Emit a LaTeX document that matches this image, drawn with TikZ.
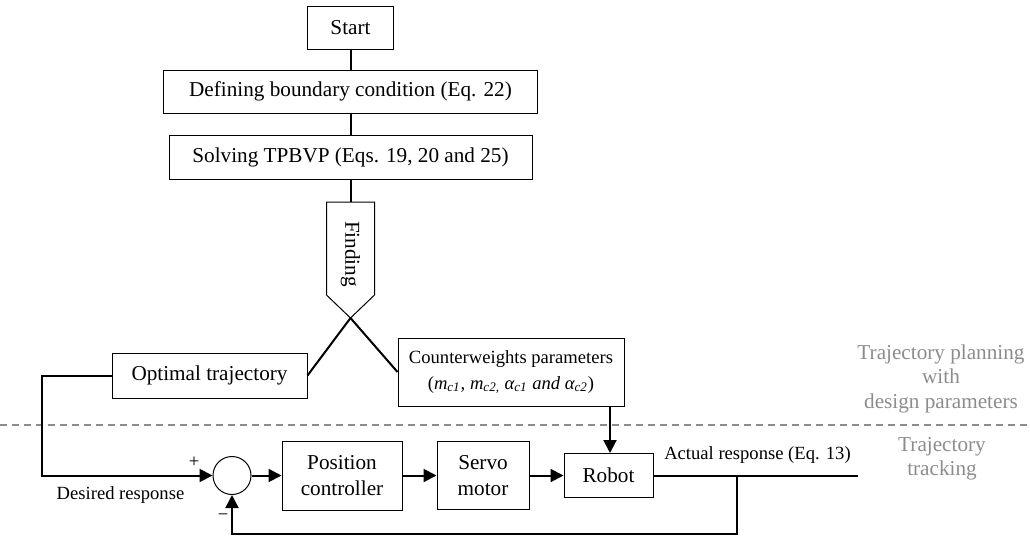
\documentclass[tikz,border=0pt]{standalone}
\usepackage{fontspec}
\setmainfont{Liberation Serif}
\usetikzlibrary{arrows.meta}

\begin{document}
\begin{tikzpicture}[x=0.5pt, y=-0.5pt, font=\fontsize{10.6}{13}\selectfont,
    blk/.style={draw, line width=0.5pt, inner sep=0pt, align=center},
    wire/.style={line width=1pt},
    sig/.style={line width=1pt, -{Triangle[length=6.5pt, width=6.5pt]}},
    lbl/.style={font=\fontsize{9.3}{13}\selectfont},
    side/.style={text=black!45, align=center, font=\fontsize{10.6}{12.25}\selectfont}]

    \useasboundingbox (0,0) rectangle (1030,537);

    % planning part
    \node[blk, minimum width=43pt, minimum height=21.5pt] (start) at (350.5,27.5) {Start};
    \node[blk, minimum width=187pt, minimum height=21.5pt] (bound) at (350.5,91.5) {Defining boundary condition (Eq. 22)};
    \node[blk, minimum width=181.5pt, minimum height=22pt] (solve) at (350.5,157) {Solving TPBVP (Eqs. 19, 20 and 25)};
    \draw[wire] (start) -- (bound);
    \draw[wire] (bound) -- (solve);

    % finding arrow shape
    \draw[line width=0.5pt] (326.5,202) -- (374.5,202) -- (374.5,295) -- (350.5,318) -- (326.5,295) -- cycle;
    \coordinate (findtop) at (350.5,202);
    \coordinate (tip) at (350.5,318);
    \node[rotate=-90] (find) at (350.5,254) {Finding};
    \draw[wire] (solve.south) -- (findtop);

    % results of the planning
    \node[blk, minimum width=97.5pt, minimum height=22.5pt] (opt) at (209.5,375.5) {Optimal trajectory};
    \node[blk, lbl, minimum width=113pt, minimum height=34pt] (cw) at (511,372)
        {Counterweights parameters\\(\textit{m\textsubscript{c1}, m\textsubscript{c2,} α\textsubscript{c1} and α\textsubscript{c2}})};
    \draw[wire] (tip) -- (opt.east);
    \draw[wire] (tip) -- (cw.west);

    % divider
    \draw[black!45, line width=0.65pt, dash pattern=on 3.5pt off 2.5pt] (0,425) -- (1030,425);
    \node[side] (plan) at (941,378.5) {Trajectory planning\\with\\design parameters};
    \node[side] (track) at (942,459) {Trajectory\\tracking};

    % tracking loop
    \node[circle, draw, line width=0.5pt, minimum size=19pt, inner sep=0pt] (sum) at (232,475.5) {};
    \node[blk, minimum width=60pt, minimum height=34.5pt] (pos) at (342,476) {Position\\controller};
    \node[blk, minimum width=46pt, minimum height=34pt] (servo) at (483,475.5) {Servo\\motor};
    \node[blk, minimum width=44.5pt, minimum height=22pt] (robot) at (608.5,475.5) {Robot};
    \coordinate (left) at (42,375.5);
    \coordinate (out) at (858,475.5);
    \coordinate (branch) at (737,475.5);
    \coordinate (fb) at (737,534);

    \draw[sig] (opt.west) -- (left) |- (sum.west);
    \draw[sig] (sum.east) -- (pos.west |- sum.east);
    \draw[sig] (pos.east |- servo.west) -- (servo.west);
    \draw[sig] (servo.east) -- (robot.west);
    \draw[sig] (cw.south -| 610,0) -- (robot.north -| 610,0);
    \draw[wire] (robot.east) -- (out);
    \draw[sig] (branch) -- (fb) -| (sum.south);

    % signal labels
    \node[lbl] (plus) at (194,462) {+};
    \node[lbl] (minus) at (223,517) {−};
    \node[lbl] (desired) at (120.5,495) {Desired response};
    \node[lbl] (actual) at (757.5,455) {Actual response (Eq. 13)};

\end{tikzpicture}
\end{document}
